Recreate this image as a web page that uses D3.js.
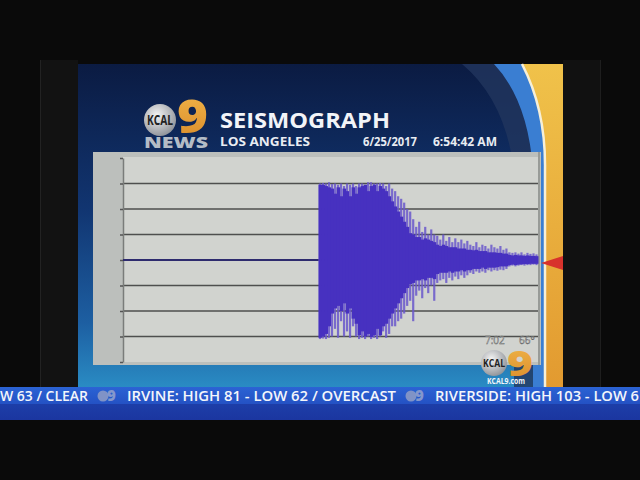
<!DOCTYPE html>
<html>
<head>
<meta charset="utf-8">
<script src="https://cdn.jsdelivr.net/npm/d3@7"></script>
<style>
  html, body { margin: 0; padding: 0; background: #0a0a0a; }
  svg { display: block; }
  text { font-family: "Open Sans", "DejaVu Sans", sans-serif; }
</style>
</head>
<body>
<svg id="chart" width="640" height="480"></svg>
<script>
let gridLevels = [-3, -2, -1, 0, 1, 2, 3];
let tickLevels = [-4, -3, -2, -1, 0, 1, 2, 3, 4];
let totalBins = 138;     // time bins across the trace
let onsetBin = 65;       // first shaking bin, flat before it
let preEventLevel = 0;

// envelope per bin after onset, in grid units
let peakHi = [3.0, 3.02, 3.0, 3.05, 2.98, 3.0, 2.95, 3.0, 2.9, 3.0, 2.95, 3.0, 2.9,
  3.0, 3.0, 2.95, 3.05, 3.05, 3.0, 3.0, 3.02, 3.0, 2.9, 3.0, 2.8,
  2.7, 2.5, 2.4, 2.25, 2.0,
  1.9, 1.6, 1.3, 1.5, 1.1, 1.3, 1.0, 1.2, 1.0,
  0.95, 0.8, 1.0, 0.75, 0.9, 0.7, 0.85, 0.7, 0.8, 0.65, 0.75,
  0.6, 0.55, 0.7, 0.5, 0.6, 0.55, 0.45, 0.6, 0.5, 0.45, 0.55, 0.4, 0.45,
  0.3, 0.28, 0.3, 0.25, 0.3, 0.22, 0.28, 0.24, 0.26, 0.22];
let peakLo = [-3.1, -3.08, -3.1, -3.05, -3.0, -2.7, -3.05, -2.4, -3.0, -2.8, -3.05, -2.6, -3.0,
  -3.1, -3.05, -3.1, -3.0, -3.1, -3.05, -3.1, -3.0, -2.8, -3.05, -2.9, -2.6,
  -2.6, -2.4, -2.3, -2.1, -1.8,
  -1.6, -2.4, -1.4, -1.2, -1.5, -1.1, -1.3, -1.0, -1.6,
  -0.9, -0.8, -0.75, -0.9, -0.7, -0.8, -0.65, -0.75, -0.6, -0.7, -0.6,
  -0.5, -0.55, -0.45, -0.5, -0.45, -0.5, -0.4, -0.45, -0.4, -0.42, -0.38, -0.4, -0.35,
  -0.25, -0.22, -0.25, -0.22, -0.2, -0.22, -0.2, -0.2, -0.18, -0.2];
let bodyHi = [2.95, 2.95, 2.9, 2.85, 2.8, 2.6, 2.85, 2.5, 2.8, 2.7, 2.5, 2.85, 2.6,
  2.85, 2.9, 2.95, 2.7, 2.9, 2.95, 2.7, 2.9, 2.8, 2.7, 2.5, 2.3,
  2.1, 1.9, 1.7, 1.5, 1.3,
  1.05, 1.0, 0.9, 0.9, 0.8, 0.85, 0.8, 0.75, 0.7,
  0.6, 0.55, 0.6, 0.55, 0.5, 0.5, 0.5, 0.45, 0.45, 0.45, 0.4,
  0.4, 0.38, 0.4, 0.35, 0.35, 0.35, 0.3, 0.3, 0.3, 0.28, 0.28, 0.25, 0.25,
  0.2, 0.18, 0.2, 0.18, 0.18, 0.16, 0.18, 0.16, 0.16, 0.15];
let bodyLo = [-3.05, -3.0, -2.9, -2.6, -2.1, -1.9, -1.8, -2.0, -1.7, -2.1, -1.9, -2.3, -2.5,
  -2.95, -2.8, -3.0, -2.9, -3.02, -2.95, -2.7, -2.95, -2.6, -2.5, -2.3, -2.1,
  -1.9, -1.7, -1.5, -1.3, -1.1,
  -0.95, -0.9, -0.8, -0.8, -0.75, -0.8, -0.7, -0.7, -0.75,
  -0.55, -0.5, -0.5, -0.5, -0.45, -0.5, -0.45, -0.45, -0.4, -0.45, -0.4,
  -0.4, -0.35, -0.35, -0.35, -0.3, -0.35, -0.3, -0.3, -0.3, -0.28, -0.25, -0.25, -0.25,
  -0.2, -0.18, -0.2, -0.18, -0.17, -0.16, -0.16, -0.15, -0.15, -0.15];

let tickerItems = ["W 63 / CLEAR", "IRVINE: HIGH 81 - LOW 62 / OVERCAST", "RIVERSIDE: HIGH 103 - LOW 6"];
let tickerStarts = [0, 127, 435];
let tickerWidths = [88, 269, 204];
let tickerBugs = [97, 405];

let svg = d3.select('#chart');

let x = d3.scaleLinear().domain([0, totalBins]).range([123, 538]);
let y = d3.scaleLinear().domain([-4, 4]).range([362, 158]);

function addDefs() {
    let defs = svg.append('defs');

    let bg = defs.append('linearGradient').attr('id', 'screenBg')
        .attr('x1', 0).attr('y1', 0).attr('x2', 0).attr('y2', 1);
    bg.append('stop').attr('offset', '0%').attr('stop-color', '#0b1b42');
    bg.append('stop').attr('offset', '45%').attr('stop-color', '#113571');
    bg.append('stop').attr('offset', '80%').attr('stop-color', '#1d5fa2');
    bg.append('stop').attr('offset', '100%').attr('stop-color', '#2a8cc4');

    let yel = defs.append('linearGradient').attr('id', 'yellowBand')
        .attr('x1', 0).attr('y1', 0).attr('x2', 0).attr('y2', 1);
    yel.append('stop').attr('offset', '0%').attr('stop-color', '#f0c24a');
    yel.append('stop').attr('offset', '100%').attr('stop-color', '#e29a30');

    let orange = defs.append('linearGradient').attr('id', 'nine')
        .attr('x1', 0).attr('y1', 0).attr('x2', 0).attr('y2', 1);
    orange.append('stop').attr('offset', '0%').attr('stop-color', '#f2b84c');
    orange.append('stop').attr('offset', '100%').attr('stop-color', '#d98a28');

    let silver = defs.append('radialGradient').attr('id', 'silver')
        .attr('cx', '40%').attr('cy', '35%').attr('r', '70%');
    silver.append('stop').attr('offset', '0%').attr('stop-color', '#f4f4f4');
    silver.append('stop').attr('offset', '100%').attr('stop-color', '#8c9096');

    let tick = defs.append('linearGradient').attr('id', 'ticker')
        .attr('x1', 0).attr('y1', 0).attr('x2', 0).attr('y2', 1);
    tick.append('stop').attr('offset', '0%').attr('stop-color', '#2b63d4');
    tick.append('stop').attr('offset', '50%').attr('stop-color', '#2452c4');
    tick.append('stop').attr('offset', '52%').attr('stop-color', '#1d3ea8');
    tick.append('stop').attr('offset', '100%').attr('stop-color', '#1b36a0');
}

function drawFrame() {
    svg.append('rect').attr('width', 640).attr('height', 480).attr('fill', '#0a0a0a');
    svg.append('rect').attr('x', 40).attr('y', 60).attr('width', 38).attr('height', 330).attr('fill', '#121212');
    svg.append('rect').attr('x', 563).attr('y', 60).attr('width', 37).attr('height', 330).attr('fill', '#111');
    svg.append('line').attr('x1', 40.5).attr('x2', 40.5).attr('y1', 60).attr('y2', 388)
        .attr('stroke', '#222');
    svg.append('line').attr('x1', 600.5).attr('x2', 600.5).attr('y1', 60).attr('y2', 388)
        .attr('stroke', '#1e1e1e');

    svg.append('rect').attr('x', 78).attr('y', 64).attr('width', 485).attr('height', 324)
        .attr('fill', 'url(#screenBg)');

    // curved bands on the right
    svg.append('path')
        .attr('d', 'M462,64 Q505,100 514,170 L514,388 L540,388 L540,64 Z')
        .attr('fill', '#22365e').attr('opacity', 0.8);
    svg.append('path')
        .attr('d', 'M494,64 Q528,100 533,170 L533,388 L545,388 L545,64 Z')
        .attr('fill', '#3a7ed2');
    svg.append('path')
        .attr('d', 'M522,64 Q546,110 545,170 L545,388 L563,388 L563,64 Z')
        .attr('fill', 'url(#yellowBand)');
    svg.append('path')
        .attr('d', 'M522,64 Q546,110 545,170 L545,388')
        .attr('fill', 'none').attr('stroke', '#f6efd8').attr('stroke-width', 2.5);
}

function drawHeader() {
    svg.append('circle').attr('cx', 160).attr('cy', 120).attr('r', 16)
        .attr('fill', 'url(#silver)');
    svg.append('text').attr('x', 147).attr('y', 125)
        .attr('textLength', 26).attr('lengthAdjust', 'spacingAndGlyphs')
        .attr('font-size', 14).attr('font-weight', 700).attr('fill', '#222')
        .text('KCAL');
    svg.append('text').attr('x', 177).attr('y', 133)
        .attr('font-size', 46).attr('font-weight', 800).attr('fill', 'url(#nine)')
        .attr('textLength', 31).attr('lengthAdjust', 'spacingAndGlyphs')
        .text('9');
    svg.append('text').attr('x', 144).attr('y', 148)
        .attr('font-size', 15).attr('font-weight', 800).attr('fill', '#b4bcc6')
        .attr('textLength', 64).attr('lengthAdjust', 'spacingAndGlyphs')
        .text('NEWS');

    svg.append('text').attr('x', 220).attr('y', 128)
        .attr('font-size', 22).attr('font-weight', 700).attr('fill', '#f2f4f8')
        .attr('textLength', 170).attr('lengthAdjust', 'spacingAndGlyphs')
        .text('SEISMOGRAPH');
    svg.append('text').attr('x', 220).attr('y', 146)
        .attr('font-size', 12).attr('font-weight', 700).attr('fill', '#e8ecf2')
        .attr('textLength', 90).attr('lengthAdjust', 'spacingAndGlyphs')
        .text('LOS ANGELES');
    svg.append('text').attr('x', 363).attr('y', 146)
        .attr('font-size', 12).attr('font-weight', 700).attr('fill', '#e8ecf2')
        .attr('textLength', 54).attr('lengthAdjust', 'spacingAndGlyphs')
        .text('6/25/2017');
    svg.append('text').attr('x', 433).attr('y', 146)
        .attr('font-size', 12).attr('font-weight', 700).attr('fill', '#e8ecf2')
        .attr('textLength', 64).attr('lengthAdjust', 'spacingAndGlyphs')
        .text('6:54:42 AM');
}

function drawPanel() {
    svg.append('rect').attr('x', 93).attr('y', 152).attr('width', 448).attr('height', 213)
        .attr('fill', '#bcbfbc');
    svg.append('rect').attr('x', x(0)).attr('y', 157).attr('width', x(totalBins) - x(0)).attr('height', 205)
        .attr('fill', '#d1d3cf');
    svg.append('line').attr('x1', 539).attr('x2', 539).attr('y1', 152).attr('y2', 365)
        .attr('stroke', '#8d8f8c').attr('stroke-width', 1.5);

    svg.append('g').selectAll('line')
        .data(gridLevels)
        .join('line')
        .attr('x1', x(0)).attr('x2', x(totalBins))
        .attr('y1', d => y(d)).attr('y2', d => y(d))
        .attr('stroke', '#4e4f4e').attr('stroke-width', 1.6);

    let axis = svg.append('g')
        .attr('transform', 'translate(' + x(0) + ',0)')
        .call(d3.axisLeft(y).tickValues(tickLevels).tickSize(3).tickSizeOuter(0).tickFormat(''));
    axis.select('.domain').attr('stroke', '#7a7c7a').attr('stroke-width', 1.5);
    axis.selectAll('.tick line').attr('stroke', '#555').attr('stroke-width', 1.5);

    // red pointer on the right edge
    svg.append('path')
        .attr('d', 'M541,263 L563,256 L563,270 Z')
        .attr('fill', '#d8322c');
}

function drawTrace() {
    let bins = peakHi.map((d, i) => ({
        t: onsetBin + i,
        hi: d,
        lo: peakLo[i],
        bHi: bodyHi[i],
        bLo: bodyLo[i]
    }));
    let bw = x(1) - x(0);

    svg.append('line')
        .attr('x1', x(0)).attr('x2', x(onsetBin))
        .attr('y1', y(preEventLevel)).attr('y2', y(preEventLevel))
        .attr('stroke', '#2e2b6e').attr('stroke-width', 2);

    // lighter strands reaching the peaks
    svg.append('g').selectAll('line')
        .data(bins)
        .join('line')
        .attr('x1', d => x(d.t) + bw / 2).attr('x2', d => x(d.t) + bw / 2)
        .attr('y1', d => y(d.hi)).attr('y2', d => y(d.lo))
        .attr('stroke', '#6a58cc').attr('stroke-width', 2.2)
        .attr('opacity', 0.85);

    // dense core of the trace
    svg.append('g').selectAll('rect')
        .data(bins)
        .join('rect')
        .attr('x', d => x(d.t))
        .attr('width', bw + 0.5)
        .attr('y', d => y(d.bHi))
        .attr('height', d => y(d.bLo) - y(d.bHi))
        .attr('fill', '#4731c0');
}

function drawBug() {
    svg.append('text').attr('x', 485).attr('y', 344)
        .attr('font-size', 10).attr('fill', '#d4d6d8')
        .attr('stroke', '#555').attr('stroke-width', 0.4)
        .text('7:02');
    svg.append('text').attr('x', 519).attr('y', 344)
        .attr('font-size', 10).attr('fill', '#d4d6d8')
        .attr('stroke', '#555').attr('stroke-width', 0.4)
        .text('66°');
    svg.append('circle').attr('cx', 494).attr('cy', 363).attr('r', 13)
        .attr('fill', 'url(#silver)');
    svg.append('text').attr('x', 483).attr('y', 367)
        .attr('font-size', 11).attr('font-weight', 700).attr('fill', '#222')
        .attr('textLength', 22).attr('lengthAdjust', 'spacingAndGlyphs')
        .text('KCAL');
    svg.append('text').attr('x', 507).attr('y', 376)
        .attr('font-size', 36).attr('font-weight', 800).attr('fill', 'url(#nine)')
        .attr('textLength', 26).attr('lengthAdjust', 'spacingAndGlyphs')
        .text('9');
    svg.append('text').attr('x', 487).attr('y', 384)
        .attr('font-size', 8).attr('font-weight', 700).attr('fill', '#f4f6fa')
        .attr('textLength', 38).attr('lengthAdjust', 'spacingAndGlyphs')
        .text('KCAL9.com');
}

function drawTicker() {
    svg.append('rect').attr('x', 0).attr('y', 387).attr('width', 640).attr('height', 33)
        .attr('fill', 'url(#ticker)');

    svg.append('g').selectAll('text')
        .data(tickerItems)
        .join('text')
        .attr('x', (d, i) => tickerStarts[i])
        .attr('y', 401)
        .attr('font-size', 14).attr('font-weight', 600).attr('fill', '#f4f6fb')
        .attr('textLength', (d, i) => tickerWidths[i])
        .attr('lengthAdjust', 'spacingAndGlyphs')
        .text(d => d);

    let bug = svg.append('g').selectAll('g')
        .data(tickerBugs)
        .join('g')
        .attr('transform', d => 'translate(' + d + ',0)');
    bug.append('circle').attr('cx', 6).attr('cy', 396).attr('r', 5.5).attr('fill', '#8093c6');
    bug.append('text').attr('x', 10).attr('y', 401)
        .attr('font-size', 15).attr('font-weight', 800).attr('fill', '#8497cc')
        .text('9');
}

addDefs();
drawFrame();
drawHeader();
drawPanel();
drawTrace();
drawBug();
drawTicker();
</script>
</body>
</html>
